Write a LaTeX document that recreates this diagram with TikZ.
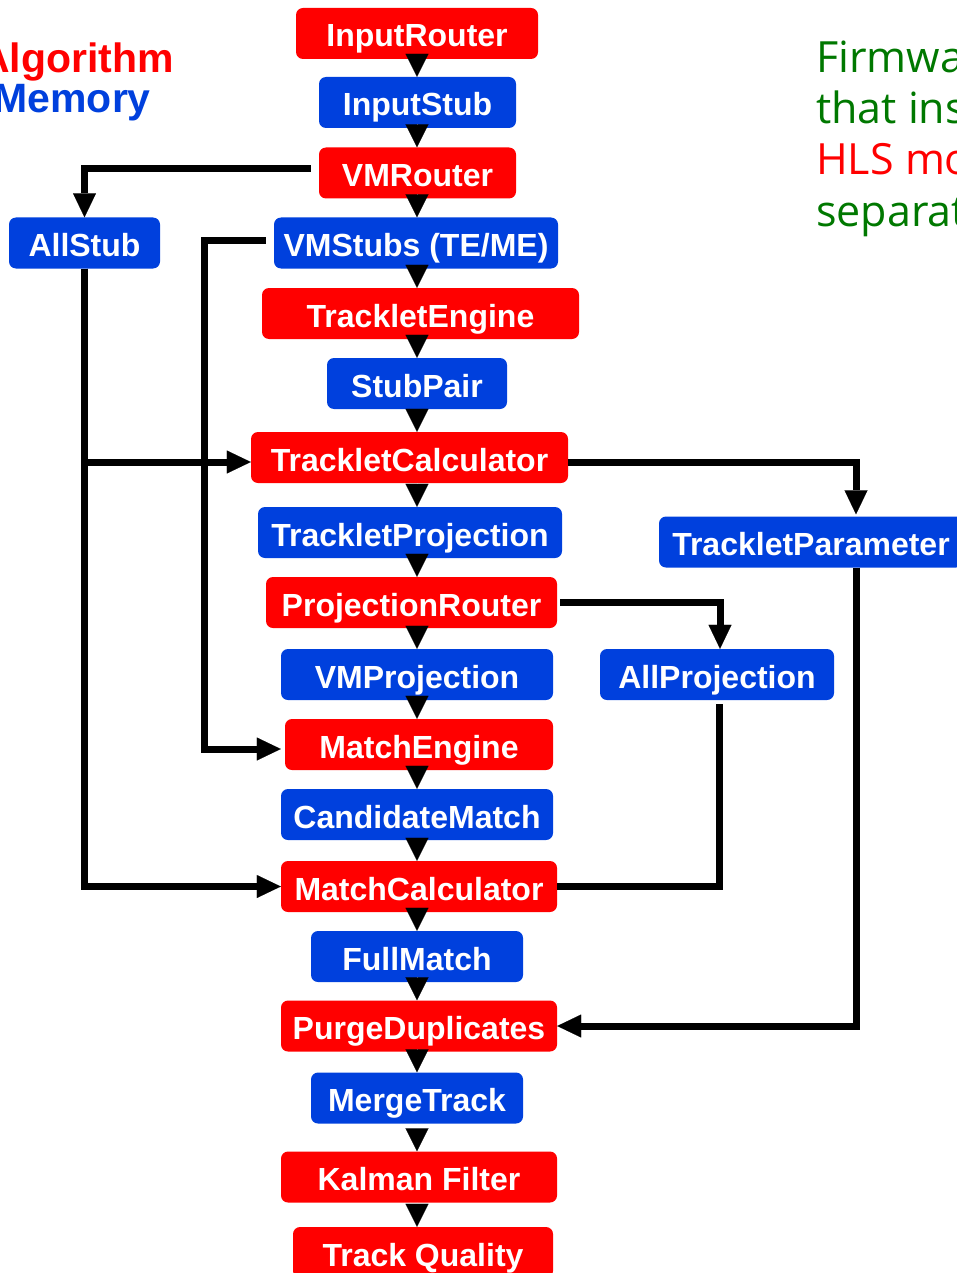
\documentclass[tikz,border=0pt]{standalone}
\usepackage{fontspec}
\setmainfont{Liberation Sans}
\newfontfamily\notefont{Open Sans}
\usetikzlibrary{arrows.meta}
\definecolor{algred}{RGB}{255,0,0}
\definecolor{memblue}{RGB}{0,64,221}
\definecolor{notegreen}{RGB}{0,120,0}

\begin{document}
\begin{tikzpicture}[x=1pt,y=-1pt,
  box/.style={rounded corners=7pt, minimum height=51pt, inner sep=0pt,
    text=white, font=\fontsize{32}{32}\selectfont\bfseries,
    text height=27pt, text depth=0pt},
  algo/.style={box, fill=algred},
  mem/.style={box, fill=memblue},
  % short hops in the main column: only the triangular head shows
  flow/.style={-{Triangle[length=23pt,width=23pt,line width=0.1pt,color=black]},
    draw=white, line width=0.2pt},
  conn/.style={line width=7pt, line join=miter},
  feed/.style={conn, -{Triangle[length=24pt,width=23pt,line width=0.1pt]}},
  legend/.style={anchor=base east, inner sep=0pt, font=\fontsize{41}{41}\selectfont\bfseries},
  note/.style={anchor=base west, inner sep=0pt, text=notegreen, font=\notefont\fontsize{43}{43}\selectfont},
]
\useasboundingbox (0,0) rectangle (957,1273);
\clip (0,0) rectangle (957,1273);

% legend
\node[legend, text=algred] (legA) at (174,73) {Algorithm};
\node[legend, text=memblue] (legM) at (151,113) {Memory};

% side note
\node[note] (n1) at (816,73) {Firmwa};
\node[note] (n2) at (816,124) {that ins};
\node[note, text=algred] (n3) at (816,175) {HLS mo};
\node[note] (n4) at (816,226) {separat};

% processing chain
\node[algo, minimum width=242pt] (IR)  at (417,33.5)   {InputRouter};
\node[mem,  minimum width=197pt] (IS)  at (417.5,102.5) {InputStub};
\node[algo, minimum width=197pt] (VMR) at (417.5,173)  {VMRouter};
\node[mem,  minimum width=151pt] (AS)  at (84.5,243)   {AllStub};
\node[mem,  minimum width=284pt] (VMS) at (416,243)    {VMStubs (TE/ME)};
\node[algo, minimum width=317pt] (TE)  at (420.5,313.5) {TrackletEngine};
\node[mem,  minimum width=180pt] (SP)  at (417,383.5)  {StubPair};
\node[algo, minimum width=317pt] (TC)  at (409.5,457.5) {TrackletCalculator};
\node[mem,  minimum width=304pt] (TP)  at (410,532.5)  {TrackletProjection};
\node[mem,  minimum width=304pt] (TPar) at (811,542)   {TrackletParameter};
\node[algo, minimum width=291pt] (PR)  at (411.5,602.5) {ProjectionRouter};
\node[mem,  minimum width=272pt] (VMP) at (417,674.5)  {VMProjection};
\node[mem,  minimum width=234pt] (AP)  at (717,674.5)  {AllProjection};
\node[algo, minimum width=268pt] (ME)  at (419,744.5)  {MatchEngine};
\node[mem,  minimum width=272pt] (CM)  at (417,814.5)  {CandidateMatch};
\node[algo, minimum width=276pt] (MC)  at (419,886.5)  {MatchCalculator};
\node[mem,  minimum width=212pt] (FM)  at (417,956.5)  {FullMatch};
\node[algo, minimum width=276pt] (PD)  at (419,1026)   {PurgeDuplicates};
\node[mem,  minimum width=212pt] (MT)  at (417,1098)   {MergeTrack};
\node[algo, minimum width=276pt] (KF)  at (419,1177)   {Kalman Filter};
\node[algo, minimum width=260pt] (TQ)  at (423,1252.5) {Track Quality};

% main column arrows
\coordinate (spine) at (417,0);
\foreach \a/\b in {IR/IS, IS/VMR, VMR/VMS, VMS/TE, TE/SP, SP/TC, TC/TP, TP/PR,
                   PR/VMP, VMP/ME, ME/CM, CM/MC, MC/FM, FM/PD, PD/MT, MT/KF, KF/TQ}
  \draw[flow] (spine |- \a.south) -- (spine |- \b.north);

% side connections
\draw[feed] ([xshift=-8pt,yshift=4pt]VMR.west) -| (AS.north);
\draw[feed] ([xshift=-8pt,yshift=2pt]VMS.west) -- ++(-61,0) |- ([xshift=-4pt,yshift=-4.5pt]ME.west);
\draw[feed] (AS.south) |- ([yshift=-4.5pt]TC.west);
\draw[feed] (AS.south) |- (MC.west);
\draw[feed] ([yshift=-4.5pt]TC.east) -| ([xshift=45pt,yshift=2pt]TPar.north);
\draw[feed] ([xshift=45pt]TPar.south) |- (PD.east);
\draw[feed] ([xshift=3pt]PR.east) -| ([xshift=3pt]AP.north);
\draw[conn] ([xshift=2pt,yshift=-4pt]AP.south) |- (MC.east);
\end{tikzpicture}
\end{document}
